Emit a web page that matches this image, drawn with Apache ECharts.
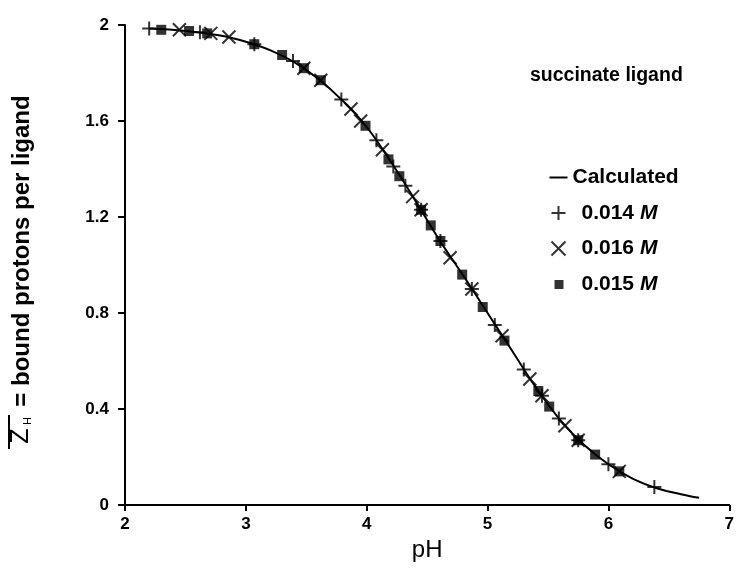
<!DOCTYPE html>
<html>
<head>
<meta charset="utf-8">
<script src="https://cdn.jsdelivr.net/npm/echarts@6/dist/echarts.min.js"></script>
<style>html,body{margin:0;padding:0;background:#fff;}#c{width:737px;height:571px;}</style>
</head>
<body>
<div id="c"></div>
<script>
// Calculated curve
var calcPH = [2.2,2.5,2.8,3.0,3.2,3.4,3.6,3.8,4.0,4.2,4.4,4.6,4.8,5.0,5.2,5.4,5.6,5.8,6.0,6.2,6.4,6.6,6.75];
var calcZ  = [1.985,1.975,1.955,1.93,1.895,1.845,1.775,1.685,1.575,1.43,1.27,1.105,0.955,0.80,0.645,0.49,0.355,0.25,0.17,0.11,0.07,0.045,0.03];
// 0.014 M (+)
var m014PH = [2.20,2.62,3.07,3.39,3.79,4.08,4.22,4.32,4.45,4.61,4.87,5.06,5.30,5.45,5.59,5.75,6.00,6.38];
var m014Z  = [1.985,1.97,1.92,1.85,1.69,1.52,1.41,1.33,1.23,1.10,0.90,0.75,0.565,0.455,0.36,0.27,0.17,0.075];
// 0.016 M (x)
var m016PH = [2.45,2.71,2.86,3.48,3.62,3.87,3.95,4.13,4.38,4.45,4.69,4.87,5.12,5.35,5.45,5.64,5.75,6.09];
var m016Z  = [1.98,1.965,1.95,1.82,1.77,1.65,1.60,1.48,1.285,1.23,1.03,0.90,0.705,0.525,0.455,0.33,0.27,0.14];
// 0.015 M (filled square)
var m015PH = [2.30,2.53,2.68,3.07,3.30,3.48,3.62,3.99,4.18,4.27,4.45,4.53,4.61,4.79,4.96,5.14,5.42,5.51,5.75,5.89,6.09];
var m015Z  = [1.98,1.975,1.965,1.92,1.875,1.82,1.77,1.58,1.44,1.37,1.23,1.165,1.10,0.96,0.825,0.685,0.475,0.41,0.27,0.21,0.14];

var xTicks = [2,3,4,5,6,7];
var yTicks = [0,0.4,0.8,1.2,1.6,2];
var seriesNames = ['Calculated','0.014 M','0.016 M','0.015 M'];

function zip(a,b){return a.map(function(v,i){return [v,b[i]];});}

var FONT = 'Liberation Sans, Arial, Helvetica, sans-serif';
var plusPath = 'path://M0,5L10,5M5,0L5,10';
var crossPath = 'path://M0,0L10,10M10,0L0,10';
var lineIcon = 'path://M0,0L18,0L18,2L0,2Z';
var squareIcon = 'path://M0,0M14,14M3,3L12,3L12,12L3,12Z';

var chart = echarts.init(document.getElementById('c'), null, {renderer:'canvas'});
chart.setOption({
  backgroundColor:'#fff',
  animation:false,
  title:{
    text:'succinate ligand', left:525, top:61,
    textStyle:{fontFamily:FONT, fontWeight:'bold', fontSize:19.5, color:'#000'}
  },
  grid:{left:125, right:3, top:25, bottom:66},
  legend:{
    orient:'vertical', left:544, top:162, itemWidth:18, itemHeight:14, itemGap:14.5,
    data:[
      {name:seriesNames[0], icon:lineIcon, itemStyle:{color:'#000', borderWidth:0}},
      {name:seriesNames[1], icon:plusPath},
      {name:seriesNames[2], icon:crossPath},
      {name:seriesNames[3], icon:squareIcon, itemStyle:{color:'#000'}}
    ],
    formatter:function(n){
      if(n==='Calculated') return '{c|Calculated}';
      return '{s|}{n|'+n.replace(' M',' ')+'}{m|M}';
    },
    textStyle:{
      fontFamily:FONT, fontSize:21, color:'#000',
      rich:{
        c:{fontFamily:FONT, fontSize:21, fontWeight:'bold', color:'#000'},
        s:{width:9},
        n:{fontFamily:FONT, fontSize:21, fontWeight:'bold', color:'#000'},
        m:{fontFamily:FONT, fontSize:21, fontWeight:'bold', fontStyle:'italic', color:'#000'}
      }
    }
  },
  xAxis:{
    type:'value', min:2, max:7, interval:1,
    name:'pH', nameLocation:'middle', nameGap:30,
    nameTextStyle:{fontFamily:FONT, fontSize:24, color:'#000'},
    axisLine:{lineStyle:{color:'#000', width:2}},
    axisTick:{show:true, length:6, lineStyle:{color:'#000', width:2}},
    axisLabel:{fontFamily:FONT, fontSize:17, fontWeight:'bold', color:'#000', margin:11,
      formatter:function(v){return xTicks.indexOf(v)>=0? String(v):'';}},
    splitLine:{show:false}
  },
  yAxis:{
    type:'value', min:0, max:2, interval:0.4,
    axisLine:{show:true, lineStyle:{color:'#000', width:2}},
    axisTick:{show:true, length:7, lineStyle:{color:'#000', width:2}},
    axisLabel:{fontFamily:FONT, fontSize:17, fontWeight:'bold', color:'#000', margin:16,
      formatter:function(v){var r=Math.round(v*10)/10; return yTicks.indexOf(r)>=0? String(r):'';}},
    splitLine:{show:false}
  },
  graphic:[
    {type:'text', x:22, y:251, rotation:Math.PI/2,
      style:{text:'= bound protons per ligand', fontFamily:FONT, fontSize:24, fontWeight:'bold', fill:'#000', align:'center', verticalAlign:'middle'}},
    {type:'text', x:21, y:436, rotation:Math.PI/2,
      style:{text:'Z', fontFamily:FONT, fontSize:25, fill:'#000', align:'center', verticalAlign:'middle'}},
    {type:'text', x:28, y:421, rotation:Math.PI/2,
      style:{text:'H', fontFamily:FONT, fontSize:11, fill:'#000', align:'center', verticalAlign:'middle'}},
    {type:'line', shape:{x1:9, y1:449, x2:9, y2:415}, style:{stroke:'#000', lineWidth:2}}
  ],
  series:[
    {name:seriesNames[0], type:'line', data:zip(calcPH,calcZ), smooth:0.4, symbol:'none',
      lineStyle:{color:'#000', width:2}, itemStyle:{color:'#000'}, z:1},
    {name:seriesNames[1], type:'scatter', data:zip(m014PH,m014Z), symbol:plusPath, symbolSize:14,
      itemStyle:{color:'none', borderColor:'#000', borderWidth:2}, z:3},
    {name:seriesNames[2], type:'scatter', data:zip(m016PH,m016Z), symbol:crossPath, symbolSize:13,
      itemStyle:{color:'none', borderColor:'#000', borderWidth:2}, z:3},
    {name:seriesNames[3], type:'scatter', data:zip(m015PH,m015Z), symbol:'rect', symbolSize:10,
      itemStyle:{color:'#000'}, z:2}
  ]
});
</script>
</body>
</html>
